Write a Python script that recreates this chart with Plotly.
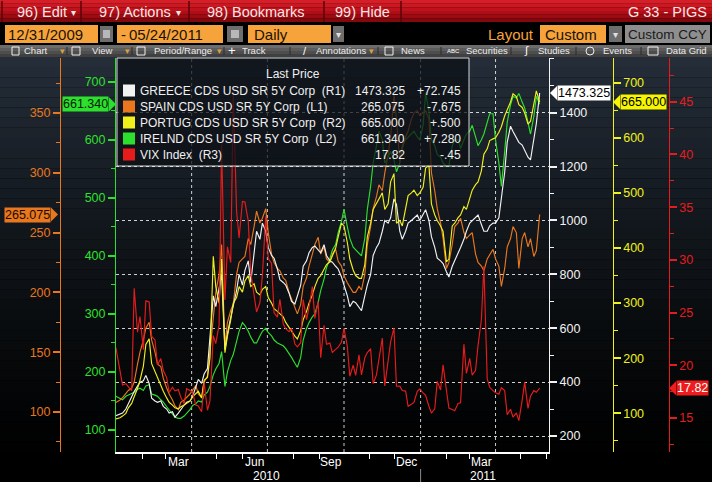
import plotly.graph_objects as go

W, H = 712, 482
FONT = "Liberation Sans, Arial, sans-serif"


def px(x):
    return x / W


def py(y):
    return 1 - y / H


# ---------------- data: Friday (weekly) readings ----------------
FRI_DATES = ["2009-12-31", "2010-01-08", "2010-01-15", "2010-01-22", "2010-01-29", "2010-02-05", "2010-02-12",
             "2010-02-19", "2010-02-26", "2010-03-05", "2010-03-12", "2010-03-19", "2010-03-26", "2010-04-02",
             "2010-04-09", "2010-04-16", "2010-04-23", "2010-04-30", "2010-05-07", "2010-05-14", "2010-05-21",
             "2010-05-28", "2010-06-04", "2010-06-11", "2010-06-18", "2010-06-25", "2010-07-02", "2010-07-09",
             "2010-07-16", "2010-07-23", "2010-07-30", "2010-08-06", "2010-08-13", "2010-08-20", "2010-08-27",
             "2010-09-03", "2010-09-10", "2010-09-17", "2010-09-24", "2010-10-01", "2010-10-08", "2010-10-15",
             "2010-10-22", "2010-10-29", "2010-11-05", "2010-11-12", "2010-11-19", "2010-11-26", "2010-12-03",
             "2010-12-10", "2010-12-17", "2010-12-24", "2010-12-31", "2011-01-07", "2011-01-14", "2011-01-21",
             "2011-01-28", "2011-02-04", "2011-02-11", "2011-02-18", "2011-02-25", "2011-03-04", "2011-03-11",
             "2011-03-18", "2011-03-25", "2011-04-01", "2011-04-08", "2011-04-15", "2011-04-22", "2011-04-29",
             "2011-05-06", "2011-05-13", "2011-05-20", "2011-05-24"]

# mid-week (Tuesday) readings
TUE_DATES = ["2010-01-05", "2010-01-12", "2010-01-19", "2010-01-26", "2010-02-02", "2010-02-09", "2010-02-16",
             "2010-02-23", "2010-03-02", "2010-03-09", "2010-03-16", "2010-03-23", "2010-03-30", "2010-04-06",
             "2010-04-13", "2010-04-20", "2010-04-27", "2010-05-04", "2010-05-11", "2010-05-18", "2010-05-25",
             "2010-06-01", "2010-06-08", "2010-06-15", "2010-06-22", "2010-06-29", "2010-07-06", "2010-07-13",
             "2010-07-20", "2010-07-27", "2010-08-03", "2010-08-10", "2010-08-17", "2010-08-24", "2010-08-31",
             "2010-09-07", "2010-09-14", "2010-09-21", "2010-09-28", "2010-10-05", "2010-10-12", "2010-10-19",
             "2010-10-26", "2010-11-02", "2010-11-09", "2010-11-16", "2010-11-23", "2010-11-30", "2010-12-07",
             "2010-12-14", "2010-12-21", "2010-12-28", "2011-01-04", "2011-01-11", "2011-01-18", "2011-01-25",
             "2011-02-01", "2011-02-08", "2011-02-15", "2011-02-22", "2011-03-01", "2011-03-08", "2011-03-15",
             "2011-03-22", "2011-03-29", "2011-04-05", "2011-04-12", "2011-04-19", "2011-04-26", "2011-05-03",
             "2011-05-10", "2011-05-17"]

GREECE_FRI = [275, 285, 320, 365, 400, 425, 340, 325, 310, 285,
              270, 300, 325, 345, 410, 430, 560, 680, 800, 580,
              680, 800, 815, 770, 960, 990, 900, 860, 780, 760,
              700, 720, 830, 880, 905, 880, 870, 845, 820, 760,
              680, 695, 665, 760, 870, 915, 1000, 1010, 1060, 930,
              990, 1010, 1000, 1040, 940, 860, 840, 790, 850, 900,
              960, 1000, 1020, 960, 980, 990, 1080, 1290, 1330, 1290,
              1260, 1225, 1360, 1473.325]
GREECE_TUE = [280, 300, 345, 385, 405, 395, 330, 330, 300, 290,
              285, 315, 330, 380, 395, 450, 720, 750, 520, 640,
              740, 760, 850, 880, 930, 960, 870, 820, 770, 730,
              690, 760, 850, 900, 890, 910, 850, 830, 790, 720,
              700, 680, 720, 800, 900, 960, 990, 1080, 960, 960,
              1000, 1020, 1020, 1000, 900, 850, 810, 830, 880, 930,
              990, 1010, 985, 960, 990, 1010, 1180, 1350, 1310, 1280,
              1235, 1300]

SPAIN_FRI = [108, 112, 118, 125, 150, 170, 160, 140, 128, 115,
             105, 108, 112, 118, 115, 125, 150, 200, 240, 175,
             190, 225, 230, 240, 268, 262, 250, 225, 218, 210,
             195, 182, 205, 222, 240, 232, 228, 232, 226, 214,
             205, 200, 202, 240, 270, 290, 300, 330, 345, 320,
             335, 350, 348, 352, 300, 270, 245, 225, 255, 262,
             245, 250, 225, 218, 232, 228, 205, 238, 255, 220,
             250, 245, 235, 265.075]
SPAIN_TUE = [110, 115, 120, 140, 160, 175, 150, 138, 120, 110,
             102, 110, 115, 122, 112, 130, 180, 215, 155, 185,
             215, 228, 245, 255, 258, 270, 232, 220, 212, 200,
             188, 190, 212, 232, 246, 238, 225, 236, 222, 208,
             200, 205, 215, 255, 280, 285, 315, 365, 310, 330,
             345, 352, 350, 345, 285, 258, 220, 240, 258, 250,
             248, 232, 222, 228, 236, 222, 220, 245, 250, 245,
             238, 230]

PORTUGAL_FRI = [90, 95, 110, 130, 160, 225, 190, 165, 140, 120,
                110, 112, 118, 130, 140, 160, 200, 330, 380, 240,
                300, 330, 340, 330, 320, 325, 310, 290, 280, 265,
                250, 235, 270, 300, 330, 350, 370, 385, 420, 440,
                380, 350, 345, 420, 470, 490, 470, 520, 445, 440,
                495, 505, 500, 545, 480, 450, 430, 380, 445, 460,
                470, 505, 520, 570, 595, 600, 620, 650, 680, 660,
                645, 630, 685, 665.0]
PORTUGAL_TUE = [92, 100, 118, 145, 185, 235, 175, 150, 128, 115,
                108, 115, 122, 135, 128, 165, 385, 300, 210, 270,
                310, 320, 350, 335, 315, 330, 300, 285, 275, 255,
                240, 250, 285, 315, 345, 360, 375, 400, 445, 410,
                360, 345, 370, 445, 480, 500, 480, 535, 450, 470,
                500, 495, 510, 550, 460, 440, 375, 440, 455, 475,
                490, 515, 540, 580, 598, 610, 640, 665, 675, 655,
                625, 660]

IRELAND_FRI = [158, 152, 160, 165, 172, 176, 162, 158, 148, 135,
               122, 120, 128, 142, 150, 160, 175, 205, 235, 200,
               230, 270, 280, 260, 250, 270, 268, 255, 248, 240,
               225, 208, 255, 285, 300, 340, 380, 410, 440, 480,
               430, 410, 400, 480, 560, 615, 560, 580, 545, 590,
               605, 615, 600, 680, 600, 575, 560, 555, 600, 585,
               610, 625, 590, 610, 645, 600, 520, 630, 675, 680,
               655, 610, 675, 661.34]
IRELAND_TUE = [155, 158, 162, 170, 168, 178, 160, 152, 140, 128,
               120, 124, 135, 145, 148, 165, 195, 215, 175, 220,
               255, 285, 270, 250, 262, 275, 262, 250, 245, 232,
               215, 225, 275, 295, 320, 360, 395, 420, 460, 450,
               415, 405, 430, 520, 590, 600, 570, 565, 560, 600,
               610, 605, 625, 650, 590, 570, 555, 590, 600, 600,
               615, 605, 600, 630, 645, 560, 580, 660, 672, 665,
               630, 640]

VIX_FRI = [21.68, 18.13, 17.91, 27.31, 24.62, 26.11, 22.73, 20.02, 19.50, 17.42,
           17.58, 16.97, 17.77, 17.47, 16.14, 18.36, 16.62, 22.05, 40.95, 31.24,
           45.79, 32.07, 35.48, 28.79, 25.05, 28.53, 30.12, 24.98, 26.25, 23.47,
           23.50, 21.74, 26.24, 25.49, 24.45, 20.71, 21.99, 21.21, 21.71, 23.50,
           18.96, 19.03, 19.08, 21.20, 18.26, 20.61, 18.04, 22.22, 18.01, 17.61,
           16.11, 16.47, 17.75, 17.14, 15.46, 18.47, 20.04, 15.93, 15.69, 16.43,
           19.22, 19.06, 21.88, 29.40, 17.91, 17.40, 17.87, 15.32, 15.07, 14.75,
           18.40, 17.07, 17.43, 17.82]
VIX_TUE = [19.35, 18.25, 17.58, 23.14, 21.48, 26.00, 22.40, 20.64, 18.83, 17.92,
           17.69, 16.35, 17.59, 16.23, 15.59, 15.73, 22.81, 23.84, 26.19, 29.74,
           34.61, 35.54, 33.70, 26.66, 25.95, 34.13, 29.65, 24.56, 23.93, 23.19,
           22.01, 22.14, 24.33, 27.46, 26.05, 23.80, 22.10, 21.50, 22.20, 21.76,
           20.00, 20.98, 20.71, 21.57, 19.08, 22.58, 20.63, 23.54, 18.02, 17.55,
           16.30, 17.52, 17.38, 16.11, 15.87, 17.65, 17.63, 15.81, 16.37, 22.00,
           20.66, 19.52, 24.32, 18.70, 17.59, 17.25, 17.59, 15.83, 15.48, 16.70,
           15.91, 17.59]

SERIES_NAMES = ["GREECE CDS USD SR 5Y Corp\u00a0\u00a0(R1)",
                "SPAIN CDS USD SR 5Y Corp\u00a0\u00a0(L1)",
                "PORTUG CDS USD SR 5Y Corp\u00a0\u00a0(R2)",
                "IRELND CDS USD SR 5Y Corp\u00a0\u00a0(L2)",
                "VIX Index\u00a0\u00a0(R3)"]
LAST_PRICE = ["1473.325", "265.075", "665.000", "661.340", "17.82"]
NET_CHANGE = ["+72.745", "-7.675", "+.500", "+7.280", "-.45"]

MONTH_POS = ["2010-03-16", "2010-06-15", "2010-09-15", "2010-12-15", "2011-03-15"]
MONTH_LABELS = ["Mar", "Jun", "Sep", "Dec", "Mar"]
QUARTER_LINES = ["2010-04-01", "2010-07-01", "2010-10-01", "2011-01-01", "2011-04-01"]
YEAR_LABELS = ["2010", "2011"]
YEAR_POS = ["2010-06-30", "2011-03-17"]

GREECE_TICKS = [200, 400, 600, 800, 1000, 1200, 1400]
SPAIN_TICKS = [100, 150, 200, 250, 300, 350]
PORT_TICKS = [100, 200, 300, 400, 500, 600, 700]
IRL_TICKS = [100, 200, 300, 400, 500, 600, 700]
VIX_TICKS = [15, 20, 25, 30, 35, 40, 45]

C_WHITE = "#f2f2f2"
C_ORANGE = "#e8771e"
C_YELLOW = "#f0f01c"
C_GREEN = "#2ee02e"
C_RED = "#e61c1c"
C_HDR_ORANGE = "#f6a33b"


def merged(fri, tue):
    pairs = list(zip(FRI_DATES, fri)) + list(zip(TUE_DATES, tue))
    pairs.sort(key=lambda p: p[0])
    return [p[0] for p in pairs], [p[1] for p in pairs]


fig = go.Figure()

# draw order: VIX, Ireland, Portugal, Spain, Greece
for fri, tue, ax, col, nm in [(VIX_FRI, VIX_TUE, "y5", C_RED, "VIX"),
                              (IRELAND_FRI, IRELAND_TUE, "y", C_GREEN, "IRELND"),
                              (PORTUGAL_FRI, PORTUGAL_TUE, "y4", C_YELLOW, "PORTUG"),
                              (SPAIN_FRI, SPAIN_TUE, "y2", C_ORANGE, "SPAIN"),
                              (GREECE_FRI, GREECE_TUE, "y3", C_WHITE, "GREECE")]:
    xs, ys = merged(fri, tue)
    fig.add_trace(go.Scatter(x=xs, y=ys, yaxis=ax, mode="lines", name=nm,
                             line=dict(color=col, width=1.15), showlegend=False, hoverinfo="skip"))

yb, yt = py(452), py(58)


def yax(color, rng, ticks, minor_dt, **kw):
    d = dict(range=rng, tickvals=ticks, showgrid=False, zeroline=False, showline=True,
             linecolor=color, linewidth=1, ticks="outside", ticklen=7, tickwidth=2, tickcolor=color,
             tickfont=dict(color=color, size=12.5, family=FONT), automargin=False, fixedrange=True,
             minor=dict(dtick=minor_dt, ticks="outside", ticklen=4, tickwidth=1, tickcolor=color))
    d.update(kw)
    return d


fig.update_layout(
    width=W, height=H, margin=dict(l=0, r=0, t=0, b=0, pad=0),
    paper_bgcolor="#000000", plot_bgcolor="rgba(0,0,0,0)",
    font=dict(family=FONT, color=C_WHITE),
    showlegend=False,
    xaxis=dict(type="date", domain=[px(116), px(549)], range=["2009-12-31 04:00", "2011-06-04 05:00"],
               anchor="y", showgrid=False, zeroline=False, showline=True, linecolor="#ffffff", linewidth=1.5,
               showticklabels=False, ticks="", automargin=False, fixedrange=True,
               minor=dict(dtick="M1", tick0="2010-01-01", ticks="outside", ticklen=5, tickwidth=1,
                          tickcolor="#ffffff", showgrid=False)),
    yaxis=yax(C_GREEN, [62, 741], IRL_TICKS, 50, domain=[yb, yt], anchor="x", side="left"),
    yaxis2=yax(C_ORANGE, [66.5, 396], SPAIN_TICKS, 25, overlaying="y", anchor="free",
               position=px(60), side="left"),
    yaxis3=yax(C_WHITE, [140.6, 1603], GREECE_TICKS, 100, overlaying="y", anchor="x", side="right",
               showgrid=True, gridcolor="rgba(255,255,255,0.8)", griddash="3px,3px", gridwidth=1),
    yaxis4=yax(C_YELLOW, [29.8, 744.8], PORT_TICKS, 50, overlaying="y", anchor="free",
               position=px(612.7), side="right"),
    yaxis5=yax(C_RED, [11.77, 49.15], VIX_TICKS, 2.5, overlaying="y", anchor="free",
               position=px(668.7), side="right"),
)

shapes = []
annotations = []

# ---- background gradient under the toolbar ----
N = 42
top_c = (36, 45, 56)
y0p, y1p = 57, 482
for i in range(N):
    a = y0p + (y1p - y0p) * i / N
    b = y0p + (y1p - y0p) * (i + 1) / N
    t = i / (N - 1)
    f = max(0.0, 1 - t) ** 1.3
    c = tuple(int(v * f) for v in top_c)
    shapes.append(dict(type="rect", xref="paper", yref="paper", x0=0, x1=1, y0=py(b), y1=py(a),
                       fillcolor="rgb(%d,%d,%d)" % c, line=dict(width=0), layer="below"))

# vertical dashed gridlines (quarter starts)
for q in QUARTER_LINES:
    shapes.append(dict(type="line", xref="x", yref="paper", x0=q, x1=q, y0=yb, y1=yt,
                       line=dict(color="rgba(255,255,255,0.8)", width=1, dash="3px,3px"), layer="below"))

# year divider below axis
shapes.append(dict(type="line", xref="x", yref="paper", x0="2011-01-01", x1="2011-01-01",
                   y0=py(482), y1=py(469), line=dict(color="#8a8a8a", width=1)))

# ---- header row 1 (red) ----
reds = [(214, 30, 40), (205, 24, 34), (192, 18, 28), (176, 14, 22), (156, 10, 18), (132, 8, 14)]
for i, c in enumerate(reds):
    shapes.append(dict(type="rect", xref="paper", yref="paper", x0=0, x1=1,
                       y0=py(22 * (i + 1) / len(reds)), y1=py(22 * i / len(reds)),
                       fillcolor="rgb(%d,%d,%d)" % c, line=dict(width=0)))
for sx in [2, 81, 189, 324, 401]:
    shapes.append(dict(type="line", xref="paper", yref="paper", x0=px(sx), x1=px(sx), y0=py(22), y1=py(1),
                       line=dict(color="#5a0508", width=1.5)))


def label(x, y, t, size, color, anchor="left", pad=1):
    annotations.append(dict(x=px(x), y=py(y), xref="paper", yref="paper", text=t, showarrow=False,
                            xanchor=anchor, yanchor="middle", borderpad=pad,
                            font=dict(size=size, color=color, family=FONT)))


def box(x0, x1, y0, y1, color):
    shapes.append(dict(type="rect", xref="paper", yref="paper", x0=px(x0), x1=px(x1), y0=py(y1), y1=py(y0),
                       fillcolor=color, line=dict(width=0)))


for x, t in [(15, "96) Edit"), (97, "97) Actions"), (205, "98) Bookmarks"), (333, "99) Hide")]:
    label(x, 11.5, t, 14.5, "#f6e6e6")
for x in [73, 178]:
    label(x, 12, "\u25be", 10, "#f6e6e6", "center")
label(709, 11.5, "G 33 - PIGS", 14.5, "#f6e6e6", "right")

# ---- header row 2 ----
box(5, 98, 25, 43, C_HDR_ORANGE)
box(100, 113, 26, 42, "#6e6e6e")
box(103, 110, 30, 38, "#b8b8b8")
box(117, 223, 25, 43, C_HDR_ORANGE)
box(227, 243, 26, 42, "#6e6e6e")
box(231, 239, 30, 38, "#b8b8b8")
box(248, 331, 25, 43, C_HDR_ORANGE)
box(333, 344, 26, 42, "#6e6e6e")
box(540, 606, 25, 43, C_HDR_ORANGE)
box(609, 622, 26, 42, "#6e6e6e")
box(625, 710, 25, 43, "#8e8e8e")
label(6, 34.5, "12/31/2009", 15, "#1a1206")
label(119, 34.5, "-", 15, "#1a1206")
label(127, 34.5, "05/24/2011", 15, "#1a1206")
label(252, 34.5, "Daily", 15, "#1a1206")
label(338.5, 34.5, "\u25be", 10, "#e0e0e0", "center")
label(536, 34.5, "Layout", 15, C_HDR_ORANGE, "right")
label(543, 34.5, "Custom", 15, "#1a1206")
label(615.5, 34.5, "\u25be", 10, "#e0e0e0", "center")
label(667.5, 34.5, "Custom CCY", 13.5, "#1a1a1a", "center", 0)

# ---- header row 3 (gray toolbar) ----
grays = [(108, 108, 108), (92, 92, 92), (78, 78, 78), (64, 64, 64)]
for i, c in enumerate(grays):
    shapes.append(dict(type="rect", xref="paper", yref="paper", x0=0, x1=1,
                       y0=py(45 + 12 * (i + 1) / len(grays)), y1=py(45 + 12 * i / len(grays)),
                       fillcolor="rgb(%d,%d,%d)" % c, line=dict(width=0)))
for sx in [67, 132, 224, 290, 378, 441, 511, 576, 641]:
    shapes.append(dict(type="line", xref="paper", yref="paper", x0=px(sx), x1=px(sx), y0=py(55), y1=py(47),
                       line=dict(color="#2a2a2a", width=1)))
for ix0, ix1 in [(12, 19), (72, 80), (137, 145), (385, 393), (648, 658)]:
    shapes.append(dict(type="rect", xref="paper", yref="paper", x0=px(ix0), x1=px(ix1), y0=py(55), y1=py(47),
                       fillcolor="rgba(0,0,0,0)", line=dict(color="#f0f0f0", width=1)))
shapes.append(dict(type="circle", xref="paper", yref="paper", x0=px(586), x1=px(594), y0=py(55), y1=py(47),
                   line=dict(color="#f0f0f0", width=1)))
for x, t in [(22, "Chart"), (90, "View"), (152, "Period/Range"), (240, "Track"), (314, "Annotations"),
             (399, "News"), (464, "Securities"), (536, "Studies"), (601, "Events"), (664, "Data Grid")]:
    label(x, 51, t, 9.5, "#ececec")
for x in [62, 127, 219, 371]:
    label(x, 51, "\u25be", 9, "#d8a040", "center")
label(232, 51, "+", 13, "#ffffff", "center")
label(305, 51, "/", 11, "#ffffff", "center")
label(454, 51, "ABC", 6, "#ffffff", "center")
label(526, 51, "\u222b", 11, "#ffffff", "center")

# ---- x axis month and year labels ----
for t, d in zip(MONTH_LABELS, MONTH_POS):
    annotations.append(dict(x=d, y=py(461.5), xref="x", yref="paper", text=t, showarrow=False,
                            xanchor="center", yanchor="middle", borderpad=0,
                            font=dict(size=12, color="#ffffff", family=FONT)))
for t, d in zip(YEAR_LABELS, YEAR_POS):
    annotations.append(dict(x=d, y=py(475.5), xref="x", yref="paper", text=t, showarrow=False,
                            xanchor="center", yanchor="middle", borderpad=0,
                            font=dict(size=12, color="#ffffff", family=FONT)))

# ---- legend box ----
shapes.append(dict(type="rect", xref="paper", yref="paper", x0=px(117), x1=px(469), y0=py(166), y1=py(58),
                   fillcolor="rgba(12,16,22,0.74)", line=dict(color="rgba(235,235,235,0.9)", width=1),
                   layer="above"))
label(293, 74, "Last Price", 12, "#f0f0f0", "center")
leg_cols = [C_WHITE, C_ORANGE, C_YELLOW, C_GREEN, C_RED]
for i in range(5):
    yc = 90.5 + 16 * i
    shapes.append(dict(type="rect", xref="paper", yref="paper", x0=px(123), x1=px(135), y0=py(yc + 6),
                       y1=py(yc - 6), fillcolor=leg_cols[i], line=dict(width=0), layer="above"))
    label(138, yc, SERIES_NAMES[i], 12, "#f0f0f0")
    label(407, yc, LAST_PRICE[i], 12, "#f0f0f0", "right")
    label(463, yc, NET_CHANGE[i], 12, "#f0f0f0", "right")

# ---- last value flags ----
flags = [  # (axis, value, tip_x, direction, fill, text colour, text)
    ("y3", GREECE_FRI[-1], 550, "left", "#ffffff", "#000000", LAST_PRICE[0]),
    ("y2", SPAIN_FRI[-1], 58, "right", C_ORANGE, "#1a0a00", LAST_PRICE[1]),
    ("y4", PORTUGAL_FRI[-1], 613, "left", "#f6f600", "#000000", LAST_PRICE[2]),
    ("y", IRELAND_FRI[-1], 116, "right", C_GREEN, "#002000", LAST_PRICE[3]),
    ("y5", VIX_FRI[-1], 669, "left", "#ee1c1c", "#ffffff", LAST_PRICE[4]),
]
for ax, v, tip, direction, fill, tc, txt in flags:
    if direction == "left":
        path = "M0,0 L7,7 L7,-7 Z"
        ax_x, anchor = tip + 7, "left"
    else:
        path = "M0,0 L-7,7 L-7,-7 Z"
        ax_x, anchor = tip - 7, "right"
    shapes.append(dict(type="path", xref="paper", yref=ax, xsizemode="pixel", ysizemode="pixel",
                       xanchor=px(tip), yanchor=v, path=path, fillcolor=fill, line=dict(width=0),
                       layer="above"))
    annotations.append(dict(x=px(ax_x), y=v, xref="paper", yref=ax, text=txt, showarrow=False,
                            xanchor=anchor, yanchor="middle", bgcolor=fill, borderpad=0,
                            font=dict(size=12.5, color=tc, family=FONT)))

fig.update_layout(shapes=shapes, annotations=annotations)
fig.write_html("out.html")
